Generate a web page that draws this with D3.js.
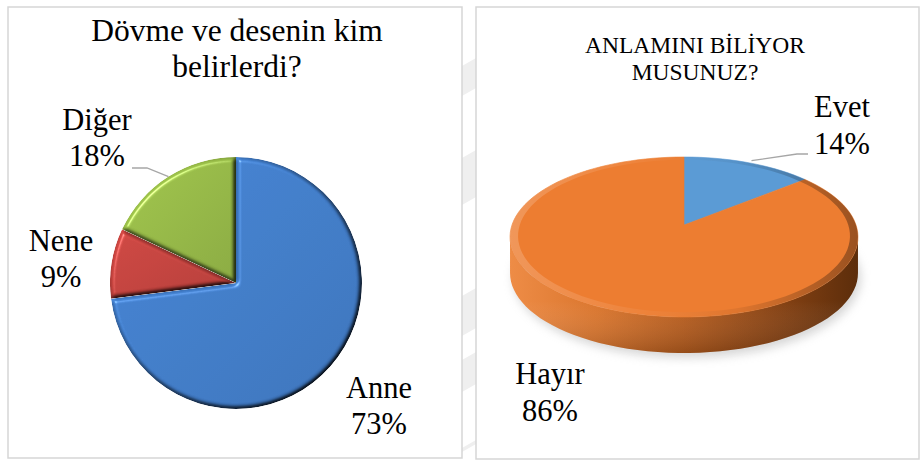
<!DOCTYPE html>
<html>
<head>
<meta charset="utf-8">
<script src="https://cdn.jsdelivr.net/npm/d3@7/dist/d3.min.js"></script>
<style>
  html, body { margin: 0; padding: 0; background: #ffffff; }
  svg { display: block; }
  text { font-family: "Liberation Serif", "Times New Roman", serif; fill: #000; }
</style>
</head>
<body>
<svg id="chart" width="920" height="462"></svg>
<script>
// ---- data ----
const leftTitle = ["Dövme ve desenin kim", "belirlerdi?"];
const leftCategories = ["Anne", "Nene", "Diğer"];
const leftValues = [73, 9, 18];
const leftColors = ["#4482d2", "#cc4541", "#9cc149"];

const rightTitle = ["ANLAMINI BİLİYOR", "MUSUNUZ?"];
const rightCategories = ["Evet", "Hayır"];
const rightValues = [14, 86];
const rightColors = ["#5b9bd5", "#ed7d31"];

const svg = d3.select("#chart");
const defs = svg.append("defs");

// faint background stripes showing through between the two panels
const bgStripes = [[58, 96], [150, 205], [288, 336], [352, 392], [440, 452]];
svg.append("g").selectAll("path").data(bgStripes).join("path")
  .attr("d", d => `M462,${d[0] + 8}L476,${d[0]}L476,${d[1] - 8}L462,${d[1]}Z`)
  .attr("fill", "#efefef");

// panels
const panels = [{x: 8, y: 7, w: 454, h: 451}, {x: 476, y: 7, w: 443, h: 452}];
svg.selectAll("rect.panel").data(panels).join("rect")
  .attr("class", "panel")
  .attr("x", d => d.x).attr("y", d => d.y)
  .attr("width", d => d.w).attr("height", d => d.h)
  .attr("fill", "#fff").attr("stroke", "#d6d6d6").attr("stroke-width", 1.5);

// ---------- left: bevelled 2D pie ----------
const bevel = defs.append("filter").attr("id", "bevel")
  .attr("color-interpolation-filters", "sRGB")
  .attr("x", "-10%").attr("y", "-10%").attr("width", "120%").attr("height", "120%");
bevel.append("feGaussianBlur").attr("in", "SourceAlpha").attr("stdDeviation", 2.2).attr("result", "blur");
const diff = bevel.append("feDiffuseLighting").attr("in", "blur").attr("surfaceScale", 4)
  .attr("diffuseConstant", 1.1).attr("lighting-color", "#fff").attr("result", "diff");
diff.append("feDistantLight").attr("azimuth", 225).attr("elevation", 62);
bevel.append("feComposite").attr("in", "SourceGraphic").attr("in2", "diff")
  .attr("operator", "arithmetic").attr("k1", 1).attr("k2", 0).attr("k3", 0).attr("k4", 0).attr("result", "lit");
const spec = bevel.append("feSpecularLighting").attr("in", "blur").attr("surfaceScale", 4)
  .attr("specularConstant", 0.6).attr("specularExponent", 40).attr("lighting-color", "#fff").attr("result", "spec");
spec.append("feDistantLight").attr("azimuth", 225).attr("elevation", 45);
bevel.append("feComposite").attr("in", "spec").attr("in2", "SourceAlpha").attr("operator", "in").attr("result", "specIn");
bevel.append("feComposite").attr("in", "lit").attr("in2", "specIn")
  .attr("operator", "arithmetic").attr("k1", 0).attr("k2", 1).attr("k3", 0.6).attr("k4", 0).attr("result", "out");
bevel.append("feComposite").attr("in", "out").attr("in2", "SourceAlpha").attr("operator", "in");

// soft top-left to bottom-right shading on each slice
leftColors.forEach((c, i) => {
  const g = defs.append("linearGradient").attr("id", "lg" + i)
    .attr("x1", "0%").attr("y1", "0%").attr("x2", "100%").attr("y2", "100%");
  g.append("stop").attr("offset", "0%").attr("stop-color", d3.color(c).brighter(0.1));
  g.append("stop").attr("offset", "100%").attr("stop-color", d3.color(c).darker(0.3));
});

const L = {cx: 236, cy: 283, r: 126};
const leftPie = d3.pie().sort(null).value(d => d)(leftValues);
const leftArc = d3.arc().innerRadius(0).outerRadius(L.r);
const gl = svg.append("g").attr("transform", `translate(${L.cx},${L.cy})`);
gl.selectAll("path").data(leftPie).join("path")
  .attr("d", leftArc)
  .attr("fill", (d, i) => `url(#lg${i})`)
  .attr("filter", "url(#bevel)");

// title
svg.append("g").selectAll("text").data(leftTitle).join("text")
  .attr("x", 237).attr("y", (d, i) => 41 + i * 36)
  .attr("text-anchor", "middle").attr("font-size", 31.5).text(d => d);

// data labels
const leftLabelPos = [{x: 379, y: 398}, {x: 61, y: 251}, {x: 97, y: 130}];
leftPie.forEach((d, i) => {
  const p = leftLabelPos[i];
  const t = svg.append("text").attr("text-anchor", "middle").attr("font-size", 30.5);
  t.append("tspan").attr("x", p.x).attr("y", p.y).text(leftCategories[i]);
  t.append("tspan").attr("x", p.x).attr("y", p.y + 36).text(d.value + "%");
});
// leader line for Diğer
{
  const d = leftPie[2];
  const a = (d.startAngle + d.endAngle) / 2;
  const ex = L.cx + L.r * Math.sin(a), ey = L.cy - L.r * Math.cos(a);
  svg.append("path")
    .attr("d", `M${ex},${ey}L147,168L132,168`)
    .attr("fill", "none").attr("stroke", "#a6a6a6").attr("stroke-width", 1.3);
}

// ---------- right: 3D pie with perspective ----------
const R = {cx: 684, cy: 225, A: 172, B: 78.2, u: 0.15, depth: 36};
function proj(theta, rho) {
  const den = 1 + R.u * rho * Math.cos(theta);
  return [R.cx + R.A * rho * Math.sin(theta) / den,
          R.cy - R.B * rho * Math.cos(theta) / den];
}
const rightPie = d3.pie().sort(null).value(d => d)(rightValues);
const N = 120;
function samples(a0, a1) {
  const n = Math.max(2, Math.ceil(N * (a1 - a0) / (2 * Math.PI)));
  return d3.range(n + 1).map(k => a0 + (a1 - a0) * k / n);
}
const line = d3.line();

// ground shadow
const sh = defs.append("filter").attr("id", "shadowBlur")
  .attr("x", "-20%").attr("y", "-50%").attr("width", "140%").attr("height", "200%");
sh.append("feGaussianBlur").attr("stdDeviation", 5);
{
  const pts = samples(0, 2 * Math.PI).map(t => {
    const p = proj(t, 1.0);
    return [p[0] + 3, p[1] + R.depth + 5];
  });
  svg.append("path").attr("d", line(pts) + "Z")
    .attr("fill", "#b0b0b0").attr("opacity", 0.5).attr("filter", "url(#shadowBlur)");
}

// side wall gradient
const sideGrad = defs.append("linearGradient").attr("id", "sideGrad")
  .attr("gradientUnits", "userSpaceOnUse").attr("x1", 510).attr("y1", 0).attr("x2", 858).attr("y2", 0);
[[0, "#ee8c46"], [0.25, "#da762e"], [0.5, "#b75d1e"], [0.75, "#8a4414"], [1, "#5c2d0b"]]
  .forEach(s => sideGrad.append("stop").attr("offset", s[0]).attr("stop-color", s[1]));
const sideShade = defs.append("linearGradient").attr("id", "sideShade")
  .attr("x1", 0).attr("y1", 0).attr("x2", 0).attr("y2", 1);
sideShade.append("stop").attr("offset", 0).attr("stop-color", "#fff").attr("stop-opacity", 0.0);
sideShade.append("stop").attr("offset", 0.55).attr("stop-color", "#fff").attr("stop-opacity", 0.0);
sideShade.append("stop").attr("offset", 1).attr("stop-color", "#000").attr("stop-opacity", 0.18);

const thA = Math.acos(-R.u), thB = 2 * Math.PI - thA;
rightPie.forEach((d, i) => {
  const a0 = Math.max(d.startAngle, thA), a1 = Math.min(d.endAngle, thB);
  if (a1 <= a0) return;
  const ts = samples(a0, a1);
  const top = ts.map(t => proj(t, 1));
  const bot = ts.slice().reverse().map(t => { const p = proj(t, 1); return [p[0], p[1] + R.depth]; });
  const dPath = line(top.concat(bot)) + "Z";
  svg.append("path").attr("d", dPath).attr("fill", i === 1 ? "url(#sideGrad)" : d3.color(rightColors[i]).darker(0.6));
  svg.append("path").attr("d", dPath).attr("fill", "url(#sideShade)");
});

// top faces
const gTop = svg.append("g");
rightPie.forEach((d, i) => {
  const pts = [proj(0, 0)].concat(samples(d.startAngle, d.endAngle).map(t => proj(t, 1)));
  gTop.append("path").attr("d", line(pts) + "Z").attr("fill", rightColors[i])
    .attr("stroke", rightColors[i]).attr("stroke-width", 0.6);
});

// rounded rim on the top face edge
const rimGrad = defs.append("linearGradient").attr("id", "rimGrad")
  .attr("gradientUnits", "userSpaceOnUse").attr("x1", 510).attr("y1", 0).attr("x2", 858).attr("y2", 0);
[[0, "#fff", 0.2], [0.4, "#fff", 0.04], [0.65, "#000", 0.06], [1, "#000", 0.35]]
  .forEach(s => rimGrad.append("stop").attr("offset", s[0]).attr("stop-color", s[1]).attr("stop-opacity", s[2]));
{
  const outer = samples(0, 2 * Math.PI).map(t => proj(t, 1));
  const inner = samples(0, 2 * Math.PI).reverse().map(t => proj(t, 0.955));
  svg.append("path").attr("d", line(outer) + "Z" + line(inner) + "Z")
    .attr("fill-rule", "evenodd").attr("fill", "url(#rimGrad)");
}

// title
svg.append("g").selectAll("text").data(rightTitle).join("text")
  .attr("x", 695).attr("y", (d, i) => 53 + i * 27)
  .attr("text-anchor", "middle").attr("font-size", 23.5).text(d => d);

// data labels
const rightLabelPos = [{x: 842, y: 117}, {x: 550, y: 384}];
rightPie.forEach((d, i) => {
  const p = rightLabelPos[i];
  const t = svg.append("text").attr("text-anchor", "middle").attr("font-size", 30.5);
  t.append("tspan").attr("x", p.x).attr("y", p.y).text(rightCategories[i]);
  t.append("tspan").attr("x", p.x).attr("y", p.y + 37).text(d.value + "%");
});
// leader line for Evet
{
  const d = rightPie[0];
  const e = proj((d.startAngle + d.endAngle) / 2, 1.0);
  svg.append("path")
    .attr("d", `M${e[0] + 3},${e[1] - 2}L797,154L808,154`)
    .attr("fill", "none").attr("stroke", "#a6a6a6").attr("stroke-width", 1.3);
}
</script>
</body>
</html>
